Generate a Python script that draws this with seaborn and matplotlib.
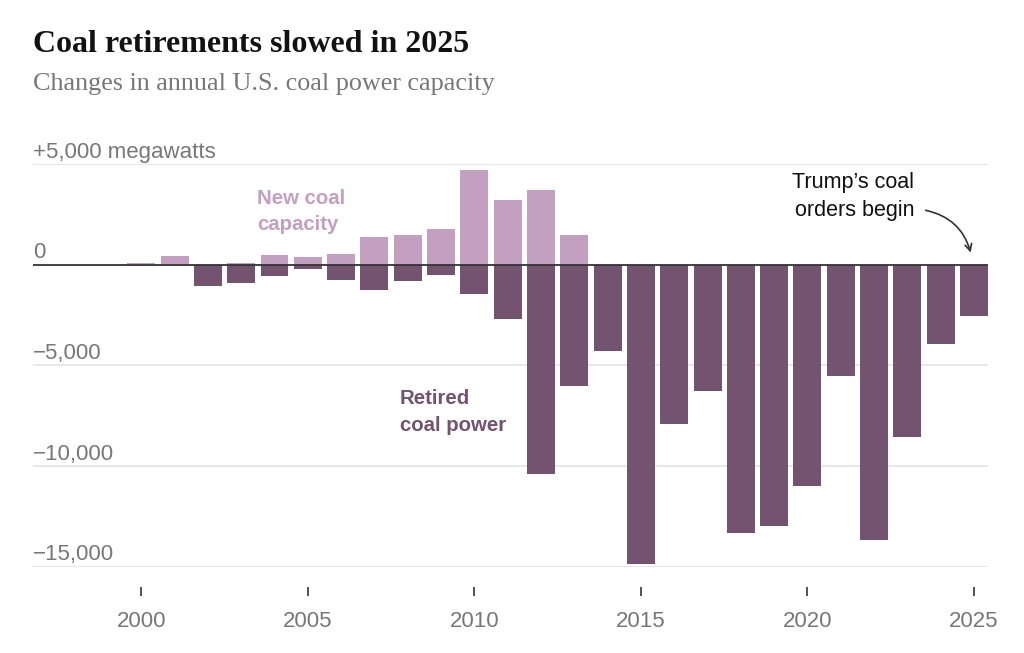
import matplotlib
matplotlib.use("Agg")
import matplotlib.pyplot as plt
import matplotlib.transforms as mtransforms
import seaborn as sns
import pandas as pd

years = list(range(2000, 2026))
new_coal = [100, 450, 0, 80, 500, 380, 550, 1380, 1460, 1780, 4700, 3200, 3720, 1470,
            0, 0, 0, 0, 0, 0, 0, 0, 0, 0, 0, 0]
retired = [0, 0, -1050, -900, -550, -230, -750, -1250, -800, -520, -1440, -2720, -10410,
           -6050, -4280, -14890, -7900, -6290, -13320, -13000, -11000, -5540, -13670,
           -8580, -3930, -2550]
ytick_vals = [5000, 0, -5000, -10000, -15000]
ytick_labels = ["+5,000 megawatts", "0", "\u22125,000", "\u221210,000", "\u221215,000"]
xtick_vals = [2000, 2005, 2010, 2015, 2020, 2025]

NEW_COLOR = "#c4a0c0"
RET_COLOR = "#73536f"
GREY = "#777777"

sns.set_theme(style="white")
plt.rcParams["font.family"] = ["Liberation Sans", "DejaVu Sans"]

df = pd.DataFrame({"year": years, "new": new_coal, "retired": retired})

fig = plt.figure(figsize=(10.24, 6.53), dpi=100)
ax = fig.add_axes([33 / 1024, 1 - 566.7 / 653, (988 - 33) / 1024, (566.7 - 164) / 653])

sns.barplot(data=df, x="year", y="new", native_scale=True, color=NEW_COLOR,
            width=0.84, linewidth=0, saturation=1, ax=ax, zorder=2)
sns.barplot(data=df, x="year", y="retired", native_scale=True, color=RET_COLOR,
            width=0.84, linewidth=0, saturation=1, ax=ax, zorder=2)

ax.set_xlim(1996.75, 2025.42)
ax.set_ylim(-15000, 5000)

for v in ytick_vals:
    if v != 0:
        ax.axhline(v, color="#e3e3e3", lw=1.2, zorder=0)
ax.axhline(0, color="#333333", lw=1.3, zorder=3)

ax.set_yticks([])
ax.set_ylabel("")
ax.set_xlabel("")
blend = mtransforms.blended_transform_factory(ax.transAxes, ax.transData)
off = mtransforms.offset_copy(blend, fig=fig, x=0, y=4.6, units="points")
for v, lab in zip(ytick_vals, ytick_labels):
    ax.text(0, v, lab, transform=off, ha="left", va="baseline",
            fontsize=16, color=GREY)

ax.set_xticks(xtick_vals)
ax.set_xticklabels([str(x) for x in xtick_vals])
for s in ["top", "right", "left"]:
    ax.spines[s].set_visible(False)
ax.spines["bottom"].set_position(("outward", 14.4))
ax.spines["bottom"].set_color("none")
ax.tick_params(axis="x", direction="out", length=6.5, width=1.2, color="#333333",
               pad=11, labelsize=16, labelcolor=GREY, bottom=True)

ax.text(2003.48, 2637, "New coal\ncapacity", ha="left", va="center",
        fontsize=14.7, fontweight="bold", color=NEW_COLOR, linespacing=1.5)
ax.text(2007.76, -7313, "Retired\ncoal power", ha="left", va="center",
        fontsize=14.7, fontweight="bold", color=RET_COLOR, linespacing=1.5)
ax.text(2023.21, 3383, "Trump\u2019s coal\norders begin", ha="right", va="center",
        fontsize=15.5, color="#111111", linespacing=1.45)
ax.annotate("", xy=(2024.9, 600), xytext=(2023.55, 2700),
            arrowprops=dict(arrowstyle="->", color="#333333", lw=1.2,
                            connectionstyle="arc3,rad=-0.3", shrinkA=0, shrinkB=0))

fig.text(33 / 1024, 1 - 44 / 653, "Coal retirements slowed in 2025",
         ha="left", va="center", fontsize=23, fontweight="bold",
         family=["Liberation Serif", "DejaVu Serif"], color="#121212")
fig.text(33 / 1024, 1 - 84 / 653, "Changes in annual U.S. coal power capacity",
         ha="left", va="center", fontsize=18.8,
         family=["Liberation Serif", "DejaVu Serif"], color=GREY)

fig.savefig("out.png", dpi=100, facecolor="white")
